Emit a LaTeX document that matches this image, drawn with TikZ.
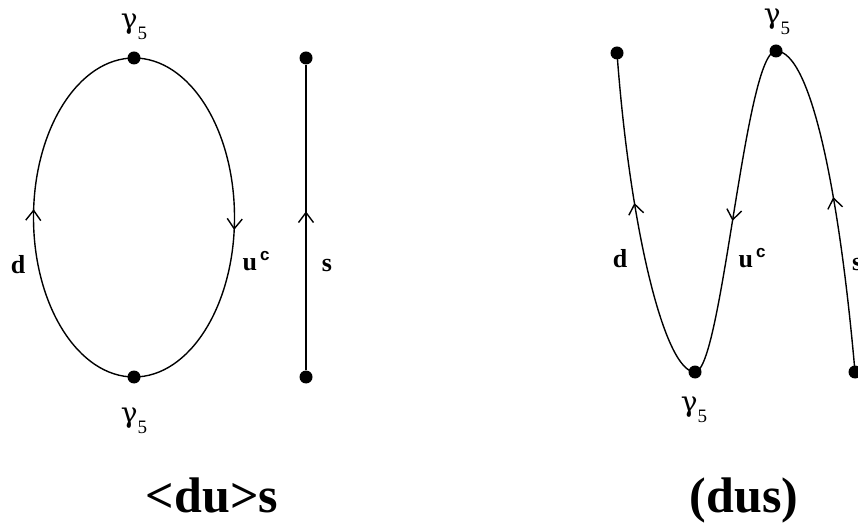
\documentclass[tikz,border=0pt]{standalone}
\usepackage{fontspec}
\setmainfont{Liberation Serif}
\newfontfamily\labsans{Liberation Sans}
\newfontfamily\greekserif{DejaVu Serif}
\usetikzlibrary{arrows.meta,decorations.markings}
\newcommand\gfive{{\greekserif γ}\raisebox{-11pt}{\fontsize{19}{20}\selectfont 5}}
\newcommand\ucc{u\hspace{3pt}\raisebox{10pt}{\labsans\fontsize{17}{18}\selectfont\bfseries c}}
\begin{document}
\begin{tikzpicture}[x=1pt,y=1pt,
  dot/.style={circle,fill=black,inner sep=0pt,minimum size=13pt},
  wire/.style={line width=1.4pt},
  midarrow/.style={postaction={decorate},decoration={markings,
     mark=at position #1 with {\arrow{Straight Barb[length=10pt,width=15pt]}}}},
  gam/.style={inner sep=0pt,font=\fontsize{28}{30}\selectfont},
  lab/.style={inner sep=0pt,font=\fontsize{26}{28}\selectfont\bfseries},
  captext/.style={inner sep=0pt,anchor=base,font=\fontsize{50}{56}\selectfont\bfseries}]
\useasboundingbox (0,0) rectangle (858,522);
% ---- left diagram <du>s
\node[dot] (T1) at (134,464) {};
\node[dot] (B1) at (134,145) {};
\node[dot] (ST) at (306,464) {};
\node[dot] (SB) at (306,145) {};
\draw[wire,midarrow=0.52] (B1.center) arc[start angle=270,end angle=90,x radius=100.5,y radius=159.5];
\draw[wire,midarrow=0.53] (T1.center) arc[start angle=90,end angle=-90,x radius=100.5,y radius=159.5];
\draw[wire,midarrow=0.52] (SB) -- (ST);
\node[gam] (g1) at (134,495) {\gfive};
\node[gam] (g2) at (134,101) {\gfive};
\node[lab] (d1) at (18,257) {d};
\node[lab] (u1) at (256,261) {\ucc};
\node[lab] (s1) at (327,256) {s};
\node[captext] (c1) at (212,10) {<du>s};
% ---- right diagram (dus)
\node[dot] (A) at (617,469) {};
\node[dot] (B) at (695,150) {};
\node[dot] (C) at (776,471) {};
\node[dot] (D) at (855,150) {};
\draw[wire,midarrow=0.55] (B.center) .. controls (665,150) and (630,292) .. (A.center);
\draw[wire,midarrow=0.53] (C.center) .. controls (745,471) and (722,150) .. (B.center);
\draw[wire,midarrow=0.52] (D.center) .. controls (840,322) and (812,471) .. (C.center);
\node[gam] (g3) at (777,500) {\gfive};
\node[gam] (g4) at (694,112) {\gfive};
\node[lab] (d2) at (620,263) {d};
\node[lab] (u2) at (752,264) {\ucc};
\node[lab,anchor=west] (s2) at (852,257) {s};
\node[captext] (c2) at (744,10) {(dus)};
\end{tikzpicture}
\end{document}
